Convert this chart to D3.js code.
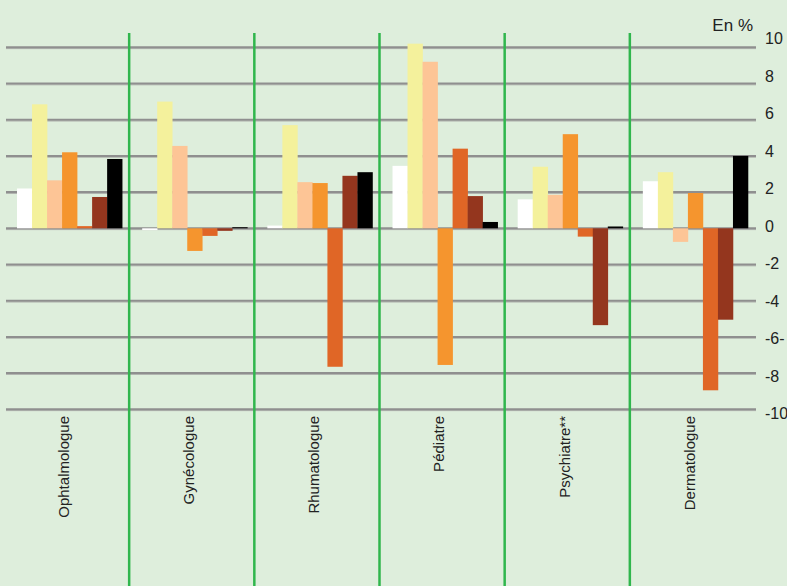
<!DOCTYPE html>
<html>
<head>
  <meta charset="UTF-8">
  <title>En %</title>
  <script src="https://cdn.jsdelivr.net/npm/d3@7/dist/d3.min.js"></script>
  <style>
    body { margin: 0; background: #deeedc; }
    svg { display: block; font-family: "Liberation Sans", Arial, sans-serif; }
  </style>
</head>
<body>
  <div id="chart"></div>

  <script>
    // categories (specialities)
    const categories = ['Ophtalmologue', 'Gynécologue', 'Rhumatologue', 'Pédiatre', 'Psychiatre**', 'Dermatologue'];

    // seven series, one value per category, in %
    const serie1 = [2.2, -0.1, 0.15, 3.45, 1.6, 2.6];
    const serie2 = [6.85, 7.0, 5.7, 10.2, 3.4, 3.1];
    const serie3 = [2.65, 4.55, 2.55, 9.2, 1.85, -0.75];
    const serie4 = [4.2, -1.25, 2.5, -7.55, 5.2, 1.95];
    const serie5 = [0.12, -0.42, -7.65, 4.4, -0.46, -8.95];
    const serie6 = [1.73, -0.14, 2.9, 1.78, -5.35, -5.05];
    const serie7 = [3.83, 0.06, 3.1, 0.35, 0.1, 4.0];

    const seriesNames = ['s1', 's2', 's3', 's4', 's5', 's6', 's7'];
    const seriesValues = [serie1, serie2, serie3, serie4, serie5, serie6, serie7];
    const seriesColors = ['#ffffff', '#f4f19c', '#fdc596', '#f5952e', '#e06626', '#94361e', '#000000'];

    // y ticks and their labels (the "-6-" is as printed)
    const tickValues = [10, 8, 6, 4, 2, 0, -2, -4, -6, -8, -10];
    const tickLabels = ['10', '8', '6', '4', '2', '0', '-2', '-4', '-6-', '-8', '-10'];

    const width = 787, height = 586;

    const svg = d3.select('#chart').append('svg')
      .attr('width', width)
      .attr('height', height);

    svg.append('rect').attr('width', width).attr('height', height).attr('fill', '#deeedc');

    const y = d3.scaleLinear().domain([-10, 10]).range([409.3, 47.3]);
    // tick labels sit on a slightly stretched scale in the original
    const yLabel = d3.scaleLinear().domain([-10, 10]).range([413.5, 38.5]);

    const x0 = d3.scaleBand().domain(categories).range([7, 758]).paddingInner(0.16).paddingOuter(0.08);
    const x1 = d3.scaleBand().domain(seriesNames).range([0, x0.bandwidth()]);

    // gridlines
    const grid = svg.append('g');
    grid.selectAll('line.light').data(tickValues).enter().append('line')
      .attr('x1', 6).attr('x2', 756)
      .attr('y1', d => y(d) + 1.3).attr('y2', d => y(d) + 1.3)
      .attr('stroke', '#acaeaa').attr('stroke-width', 1);
    grid.selectAll('line.dark').data(tickValues).enter().append('line')
      .attr('x1', 6).attr('x2', 756)
      .attr('y1', d => y(d)).attr('y2', d => y(d))
      .attr('stroke', '#8f8f8f').attr('stroke-width', 2);

    // bars
    const groups = svg.append('g').selectAll('g').data(categories).enter().append('g')
      .attr('transform', d => `translate(${x0(d)},0)`);

    groups.selectAll('rect').data((c, i) => seriesNames.map((s, j) => ({s: s, v: seriesValues[j][i], color: seriesColors[j]})))
      .enter().append('rect')
      .attr('x', d => x1(d.s))
      .attr('width', x1.bandwidth() + 0.3)
      .attr('y', d => Math.min(y(d.v), y(0)))
      .attr('height', d => Math.abs(y(d.v) - y(0)))
      .attr('fill', d => d.color);

    // green separators between categories
    svg.append('g').selectAll('line').data(categories.slice(1)).enter().append('line')
      .attr('x1', d => x0(d) - x0.step() * x0.paddingInner() / 2 - 3)
      .attr('x2', d => x0(d) - x0.step() * x0.paddingInner() / 2 - 3)
      .attr('y1', 33).attr('y2', height)
      .attr('stroke', '#30b64d').attr('stroke-width', 2.5);

    // y axis labels on the right
    svg.append('g').selectAll('text').data(tickValues).enter().append('text')
      .attr('x', 765)
      .attr('y', d => yLabel(d))
      .attr('dy', '0.36em')
      .attr('font-size', 16)
      .attr('fill', '#222')
      .text((d, i) => tickLabels[i]);

    svg.append('text')
      .attr('x', 753).attr('y', 31)
      .attr('text-anchor', 'end')
      .attr('font-size', 17)
      .attr('fill', '#222')
      .text('En %');

    // category labels, vertical
    svg.append('g').selectAll('text').data(categories).enter().append('text')
      .attr('transform', d => `translate(${x0(d) + x0.bandwidth() / 2 - 6},416) rotate(-90)`)
      .attr('text-anchor', 'end')
      .attr('dy', '0.35em')
      .attr('font-size', 15)
      .attr('fill', '#222')
      .text(d => d);
  </script>
</body>
</html>
